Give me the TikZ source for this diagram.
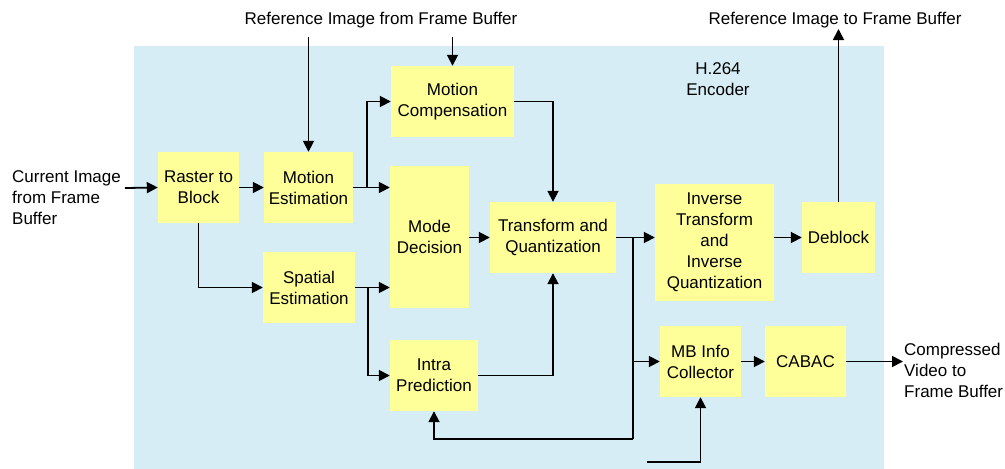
\documentclass[tikz,border=0pt]{standalone}
\usepackage{fontspec}
\setmainfont{Liberation Sans}
\usetikzlibrary{arrows.meta,calc}
\definecolor{bgblue}{RGB}{214,237,245}
\definecolor{blkyellow}{RGB}{255,255,153}
\begin{document}
\begin{tikzpicture}[x=1pt,y=-1pt,
  font=\fontsize{17}{21}\selectfont,
  blk/.style={fill=blkyellow, inner sep=0pt, align=center},
  conn/.style={line width=1.8pt, -{Triangle[length=11pt,width=11pt]}},
  plain/.style={line width=1.8pt},
  lbl/.style={inner sep=0pt, align=center}]
\useasboundingbox (0,0) rectangle (1005,469);
\fill[bgblue] (134,46) rectangle (884,469);

\node[blk, minimum width=81pt, minimum height=71pt] (rb) at (198.5,187.5) {Raster to\\Block};
\node[blk, minimum width=89pt, minimum height=71pt] (me) at (308.5,187.5) {Motion\\Estimation};
\node[blk, minimum width=123pt, minimum height=71pt] (mc) at (452.5,101.5) {Motion\\Compensation};
\node[blk, minimum width=79pt, minimum height=142pt] (md) at (429.5,237) {Mode\\Decision};
\node[blk, minimum width=92pt, minimum height=71pt] (se) at (309,287.5) {Spatial\\Estimation};
\node[blk, minimum width=88pt, minimum height=71pt] (ip) at (434,375.5) {Intra\\Prediction};
\node[blk, minimum width=126pt, minimum height=71pt] (tq) at (553,237.5) {Transform and\\Quantization};
\node[blk, minimum width=119pt, minimum height=117pt] (it) at (714.5,242.5) {Inverse\\Transform\\and\\Inverse\\Quantization};
\node[blk, minimum width=73pt, minimum height=71pt] (db) at (838.5,237.5) {Deblock};
\node[blk, minimum width=81pt, minimum height=71pt] (mb) at (700.5,361.5) {MB Info\\Collector};
\node[blk, minimum width=81pt, minimum height=71pt] (cb) at (805.5,361.5) {CABAC};

\node[lbl] (h264) at (718,79) {H.264\\Encoder};
\node[lbl] (refin) at (381,20) {Reference Image from Frame Buffer};
\node[lbl] (refout) at (835,20) {Reference Image to Frame Buffer};
\node[lbl, anchor=west, align=left] (cur) at (12,198) {Current Image\\from Frame\\Buffer};
\node[lbl, anchor=west, align=left] (comp) at (904,370) {Compressed\\Video to\\Frame Buffer};

\coordinate (curend) at (125,188);
\coordinate (refme) at (308.5,37);
\coordinate (refmc) at (452.5,37);
\coordinate (dbout) at (838.5,29);
\coordinate (cbout) at (903,361.5);
\coordinate (mbin) at (647,462);
\coordinate (j1) at (367,188);
\coordinate (j2) at (368,288);
\coordinate (j3) at (633,237.5);
\coordinate (j4) at (633,439);

\draw[conn] (curend) -- (rb.west);
\draw[conn] (rb.east) -- (me.west);
\draw[conn] (refme) -- (me.north);
\draw[conn] (refmc) -- (mc.north);
\draw[conn] (me.east) -- (md.west |- me.east);
\draw[conn] (j1) |- (mc.west);
\draw[conn] (rb.south) |- (se.west);
\draw[conn] (se.east) -- (md.west |- se.east);
\draw[conn] (j2) |- (ip.west);
\draw[conn] (md.east |- tq.west) -- (tq.west);
\draw[conn] (mc.east) -| (tq.north);
\draw[conn] (ip.east) -| (tq.south);
\draw[conn] (tq.east) -- (it.west |- tq.east);
\draw[conn] (it.east |- db.west) -- (db.west);
\draw[conn] (db.north) -- (dbout);
\draw[plain] (j3) -- (j4);
\draw[conn] (j4) -| (ip.south);
\draw[conn] (j3 |- mb.west) -- (mb.west);
\draw[conn] (mbin) -| (mb.south);
\draw[conn] (mb.east) -- (cb.west);
\draw[conn] (cb.east) -- (cbout);
\end{tikzpicture}
\end{document}
